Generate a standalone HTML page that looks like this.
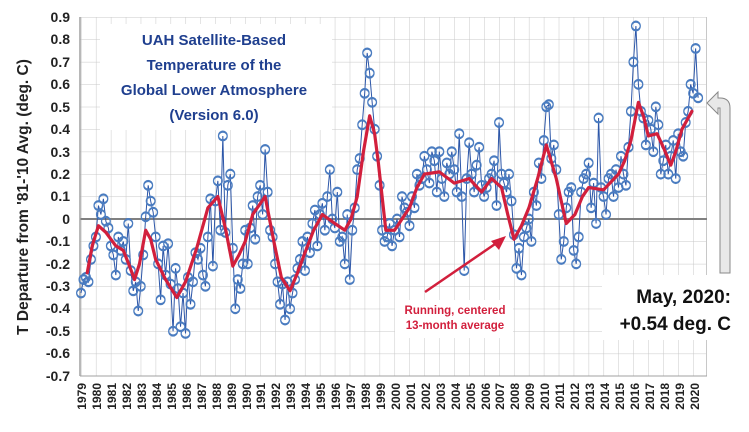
<!DOCTYPE html>
<html><head><meta charset="utf-8"><style>
html,body{margin:0;padding:0;background:#fff;}
svg{display:block;font-family:"Liberation Sans",sans-serif;}
</style></head><body>
<svg width="749" height="432" viewBox="0 0 749 432" xmlns="http://www.w3.org/2000/svg">
<defs>
<pattern id="gp" x="81" y="17" width="14.93" height="22.44" patternUnits="userSpaceOnUse">
<path d="M0,0 L0,22.44 M0,0 L14.93,0" stroke="#c8c8c8" stroke-width="1" fill="none"/>
</pattern>
<marker id="c" markerUnits="userSpaceOnUse" markerWidth="10" markerHeight="10" refX="0" refY="0" viewBox="-3 -3 6 6" overflow="visible">
<ellipse cx="0" cy="0" rx="2.1" ry="1.16" fill="none" stroke="#4a7cc0" stroke-width="0.6"/>
</marker>
</defs>
<rect x="80" y="17" width="627" height="359" fill="url(#gp)"/>
<line x1="706.5" y1="17" x2="706.5" y2="376" stroke="#c8c8c8"/>
<line x1="80" y1="219" x2="707" y2="219" stroke="#808080" stroke-width="2"/>
<line x1="80" y1="17" x2="80" y2="376" stroke="#a0a0a0" stroke-width="1.5"/>
<line x1="80" y1="376" x2="707" y2="376" stroke="#a0a0a0" stroke-width="1"/>
<rect x="100" y="24" width="232" height="106" fill="#fff"/>
<rect x="395" y="300" width="118" height="38" fill="#fff"/>
<rect x="602" y="275" width="147" height="65" fill="#fff"/>
<g transform="translate(81,219) scale(1.2442,-2.244)">
<polyline fill="none" stroke="#2c56a8" stroke-width="1" vector-effect="non-scaling-stroke" marker-start="url(#c)" marker-mid="url(#c)" marker-end="url(#c)" points="0,-33 2,-27 4,-26 6,-28 8,-18 10,-12 12,-8 14,6 16,2 18,9 20,-1 22,-4 24,-12 26,-16 28,-25 30,-8 32,-14 34,-10 36,-18 38,-2 40,-23 42,-32 44,-28 46,-41 48,-30 50,-16 52,1 54,15 56,8 58,3 60,-8 62,-20 64,-36 66,-12 68,-25 70,-11 72,-29 74,-50 76,-22 78,-31 80,-48 82,-33 84,-51 86,-26 88,-38 90,-28 92,-15 94,-18 96,-13 98,-25 100,-30 102,-8 104,9 106,-21 108,8 110,17 112,-5 114,37 116,-6 118,15 120,20 122,-13 124,-40 126,-27 128,-31 130,-20 132,-5 134,-20 136,-4 138,6 140,-9 142,10 144,15 146,2 148,31 150,12 152,-5 154,-8 156,-20 158,-28 160,-38 162,-29 164,-45 166,-28 168,-40 170,-33 172,-27 174,-22 176,-18 178,-10 180,-23 182,-8 184,-15 186,-2 188,4 190,-12 192,2 194,7 196,-5 198,10 200,22 202,0 204,-4 206,12 208,-10 210,-8 212,-20 214,2 216,-27 218,-5 220,5 222,22 224,27 226,42 228,56 230,74 232,65 234,52 236,40 238,28 240,15 242,-5 244,-10 246,-8 248,-2 250,-12 252,-5 254,0 256,-8 258,10 260,5 262,3 264,-3 266,10 268,5 270,20 272,15 274,18 276,28 278,22 280,16 282,30 284,26 286,12 288,30 290,18 292,10 294,25 296,20 298,30 300,22 302,12 304,38 306,10 308,-23 310,18 312,34 314,20 316,12 318,24 320,32 322,15 324,10 326,14 328,18 330,20 332,26 334,6 336,43 338,20 340,16 342,12 344,20 346,8 348,-7 350,-22 352,-13 354,-25 356,-8 358,-4 360,0 362,-10 364,12 366,6 368,25 370,18 372,35 374,50 376,51 378,27 380,33 382,22 384,2 386,-18 388,-10 390,5 392,12 394,14 396,-14 398,-20 400,-8 402,12 404,18 406,20 408,25 410,5 412,16 414,-2 416,45 418,14 420,10 422,2 424,18 426,20 428,10 430,22 432,14 434,28 436,20 438,15 440,32 442,48 444,70 446,86 448,60 450,48 452,45 454,33 456,44 458,40 460,30 462,50 464,42 466,20 468,26 470,33 472,20 474,28 476,35 478,18 480,38 482,30 484,28 486,43 488,48 490,60 492,56 494,76 496,54"/>
<polyline fill="none" stroke="#d21f3c" stroke-width="3.2" vector-effect="non-scaling-stroke" stroke-linejoin="round" stroke-linecap="round" points="5,-24 9,-12 14,-3 20,-6 28,-12 34,-14 39,-21 43,-27 47,-20 52,-5 56,-9 60,-18 68,-27 77,-35 84,-28 93,-13 102,5 110,10 116,-4 122,-21 127,-16 132,-10 138,2 148,10 155,-10 161,-26 168,-32 174,-24 180,-15 187,-5 194,2 204,-2 212,-5 217,0 222,10 227,30 232,46 236,38 239,25 245,-5 252,-5 258,0 264,5 270,14 276,20 288,21 300,16 312,18 322,12 330,18 338,14 343,2 348,-9 354,-3 360,5 367,18 374,33 382,18 386,8 390,-2 397,2 403,10 408,14 420,13 432,20 437,26 442,35 448,52 452,46 456,37 463,38 468,32 474,24 478,30 483,40 491,48"/>
</g>
<g font-weight="bold" font-size="15" fill="#1f3f8f" text-anchor="middle">
<text x="214" y="45">UAH Satellite-Based</text>
<text x="214" y="70">Temperature of the</text>
<text x="214" y="95">Global Lower Atmosphere</text>
<text x="214" y="120">(Version 6.0)</text>
</g>
<g font-weight="bold" font-size="11.5" fill="#d21f3c" text-anchor="middle">
<text x="455" y="314">Running, centered</text>
<text x="455" y="329">13-month average</text>
</g>
<line x1="425" y1="292" x2="498" y2="242" stroke="#d21f3c" stroke-width="2.5"/>
<polygon points="506,236 491,241 499,250" fill="#d21f3c"/>
<g font-weight="bold" font-size="19" fill="#111" text-anchor="end">
<text x="731" y="303">May, 2020:</text>
<text x="731" y="330">+0.54 deg. C</text>
</g>
<path d="M730,273 L730,108 Q730,98 720,98 L718,98 L718,92 L707,103 L718,114 L718,108 L720,108 L720,273 Z" fill="#e8e8e8" stroke="#888" stroke-width="1"/>
<g font-weight="bold" font-size="14" fill="#222" text-anchor="end">
<text x="70" y="22">0.9</text><text x="70" y="44">0.8</text><text x="70" y="67">0.7</text><text x="70" y="89">0.6</text><text x="70" y="112">0.5</text><text x="70" y="134">0.4</text><text x="70" y="157">0.3</text><text x="70" y="179">0.2</text><text x="70" y="201">0.1</text><text x="70" y="224">0</text><text x="70" y="246">-0.1</text><text x="70" y="269">-0.2</text><text x="70" y="291">-0.3</text><text x="70" y="313">-0.4</text><text x="70" y="336">-0.5</text><text x="70" y="358">-0.6</text><text x="70" y="381">-0.7</text>
</g>
<text transform="translate(28,197) rotate(-90)" font-weight="bold" font-size="15.5" fill="#222" text-anchor="middle">T Departure from '81-'10 Avg. (deg. C)</text>
<g font-weight="bold" font-size="12" fill="#222" text-anchor="end">
<text transform="translate(86,383) rotate(-90)">1979</text><text transform="translate(101,383) rotate(-90)">1980</text><text transform="translate(116,383) rotate(-90)">1981</text><text transform="translate(131,383) rotate(-90)">1982</text><text transform="translate(146,383) rotate(-90)">1983</text><text transform="translate(161,383) rotate(-90)">1984</text><text transform="translate(176,383) rotate(-90)">1985</text><text transform="translate(191,383) rotate(-90)">1986</text><text transform="translate(206,383) rotate(-90)">1987</text><text transform="translate(221,383) rotate(-90)">1988</text><text transform="translate(236,383) rotate(-90)">1989</text><text transform="translate(251,383) rotate(-90)">1990</text><text transform="translate(265,383) rotate(-90)">1991</text><text transform="translate(280,383) rotate(-90)">1992</text><text transform="translate(295,383) rotate(-90)">1993</text><text transform="translate(310,383) rotate(-90)">1994</text><text transform="translate(325,383) rotate(-90)">1995</text><text transform="translate(340,383) rotate(-90)">1996</text><text transform="translate(355,383) rotate(-90)">1997</text><text transform="translate(370,383) rotate(-90)">1998</text><text transform="translate(385,383) rotate(-90)">1999</text><text transform="translate(400,383) rotate(-90)">2000</text><text transform="translate(415,383) rotate(-90)">2001</text><text transform="translate(430,383) rotate(-90)">2002</text><text transform="translate(445,383) rotate(-90)">2003</text><text transform="translate(460,383) rotate(-90)">2004</text><text transform="translate(475,383) rotate(-90)">2005</text><text transform="translate(490,383) rotate(-90)">2006</text><text transform="translate(504,383) rotate(-90)">2007</text><text transform="translate(519,383) rotate(-90)">2008</text><text transform="translate(534,383) rotate(-90)">2009</text><text transform="translate(549,383) rotate(-90)">2010</text><text transform="translate(564,383) rotate(-90)">2011</text><text transform="translate(579,383) rotate(-90)">2012</text><text transform="translate(594,383) rotate(-90)">2013</text><text transform="translate(609,383) rotate(-90)">2014</text><text transform="translate(624,383) rotate(-90)">2015</text><text transform="translate(639,383) rotate(-90)">2016</text><text transform="translate(654,383) rotate(-90)">2017</text><text transform="translate(669,383) rotate(-90)">2018</text><text transform="translate(684,383) rotate(-90)">2019</text><text transform="translate(699,383) rotate(-90)">2020</text>
</g>
</svg>
</body></html>
